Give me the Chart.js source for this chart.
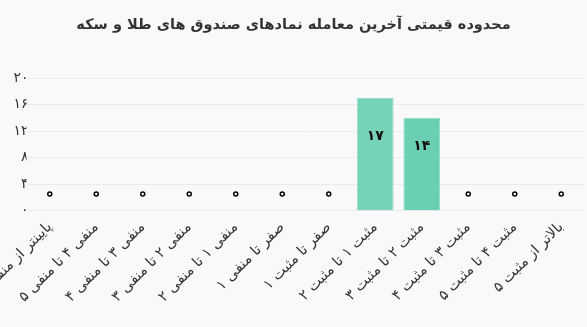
<!DOCTYPE html>
<html>
<head>
<meta charset="utf-8">
<script src="https://cdn.jsdelivr.net/npm/chart.js@4.4.1/dist/chart.umd.min.js"></script>
<style>
html,body{margin:0;padding:0;background:#f9f9f9;overflow:hidden;width:587px;height:327px;}
#title{position:absolute;left:0;top:14px;width:587px;text-align:center;direction:rtl;font-family:"DejaVu Sans",sans-serif;font-weight:bold;font-size:14.5px;line-height:20px;color:#333;}
#wrap{position:absolute;left:0;top:0;width:590px;height:327px;}
</style>
</head>
<body>
<div id="wrap"><canvas id="c"></canvas></div>
<div id="title">محدوده قیمتی آخرین معامله نمادهای صندوق های طلا و سکه</div>
<script>
const categories = [
  "پایینتر از منفی ۵",
  "منفی ۴ تا منفی ۵",
  "منفی ۳ تا منفی ۴",
  "منفی ۲ تا منفی ۳",
  "منفی ۱ تا منفی ۲",
  "صفر تا منفی ۱",
  "صفر تا مثبت ۱",
  "مثبت ۱ تا مثبت ۲",
  "مثبت ۲ تا مثبت ۳",
  "مثبت ۳ تا مثبت ۴",
  "مثبت ۴ تا مثبت ۵",
  "بالاتر از مثبت ۵"
];
const barCounts = [0, 0, 0, 0, 0, 0, 0, 17, 14, 0, 0, 0];
const markerValues = [2.5, 2.5, 2.5, 2.5, 2.5, 2.5, 2.5, 2.5, 2.5, 2.5, 2.5, 2.5];
const yTicks = [0, 4, 8, 12, 16, 20];

const faDigits = "۰۱۲۳۴۵۶۷۸۹";
function toFa(n){ return String(n).replace(/[0-9]/g, d => faDigits[+d]); }

const FONT = '"DejaVu Sans", sans-serif';

const valueLabels = {
  id: 'valueLabels',
  afterDatasetsDraw(chart){
    const meta = chart.getDatasetMeta(0);
    const ctx = chart.ctx;
    ctx.save();
    ctx.font = 'bold 14px ' + FONT;
    ctx.fillStyle = '#111';
    ctx.textAlign = 'center';
    ctx.textBaseline = 'middle';
    meta.data.forEach((el, i) => {
      const v = barCounts[i];
      if (!v) return;
      const y = (el.y + el.base) / 2 - 18;
      ctx.fillText(toFa(v), el.x, y);
    });
    ctx.restore();
  }
};

new Chart(document.getElementById('c'), {
  type: 'bar',
  data: {
    labels: categories,
    datasets: [
      {
        type: 'bar',
        data: barCounts,
        order: 0,
        backgroundColor: ['#77d3b7','#77d3b7','#77d3b7','#77d3b7','#77d3b7','#77d3b7','#77d3b7','#77d3b7','#6bd0b3','#77d3b7','#77d3b7','#77d3b7'],
        borderColor: '#93ddc7',
        borderWidth: 1,
        barPercentage: 1,
        categoryPercentage: 0.79
      },
      {
        type: 'line',
        data: markerValues,
        order: 1,
        showLine: false,
        pointRadius: 2,
        pointBorderWidth: 1.5,
        pointBorderColor: '#000',
        pointBackgroundColor: '#fff'
      }
    ]
  },
  options: {
    responsive: true,
    maintainAspectRatio: false,
    animation: false,
    layout: { padding: { top: 78, left: 0, right: 0, bottom: 0 } },
    plugins: { legend: { display: false }, tooltip: { enabled: false }, title: { display: false } },
    scales: {
      x: {
        grid: { display: false, drawTicks: false },
        border: { display: false },
        ticks: {
          autoSkip: false,
          minRotation: 45,
          maxRotation: 45,
          padding: 8,
          color: '#333',
          font: { family: FONT, size: 14.5 }
        },
        afterFit(scale){ scale.height = 116.3; scale.paddingLeft = 0; scale.paddingRight = 0; }
      },
      y: {
        min: 0,
        max: 20,
        afterBuildTicks(scale){ scale.ticks = yTicks.map(v => ({ value: v })); },
        grid: { color: '#ebebeb', drawTicks: false },
        border: { display: false },
        ticks: {
          padding: -2,
          color: '#333',
          font: { family: FONT, size: 14 },
          callback: v => toFa(v)
        },
        afterFit(scale){ scale.width = 26.5; scale.paddingTop = 0; scale.paddingBottom = 0; }
      }
    }
  },
  plugins: [valueLabels]
});
</script>
</body>
</html>
